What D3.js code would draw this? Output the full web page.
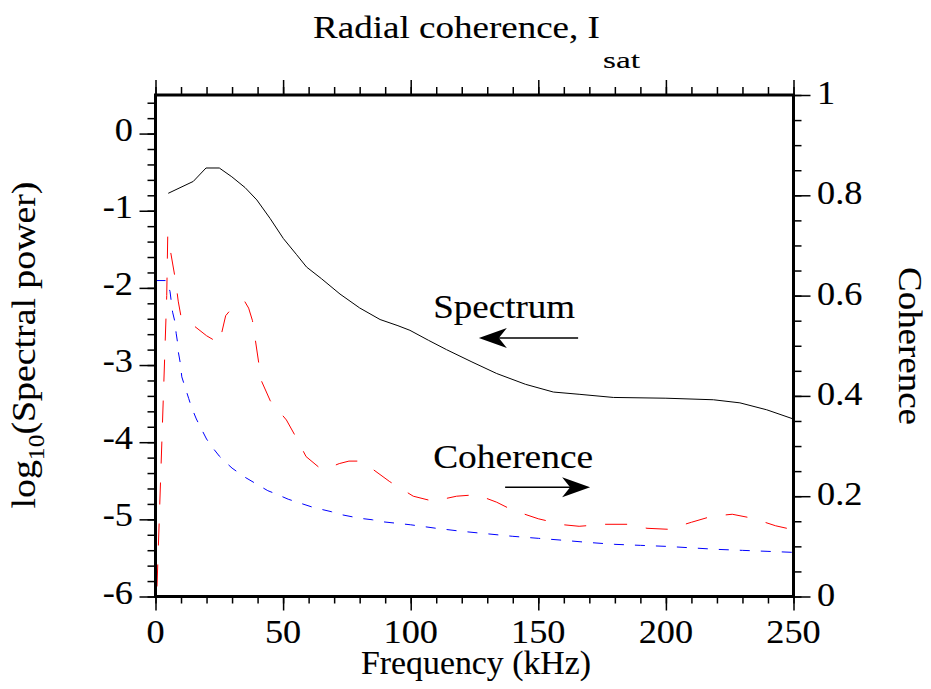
<!DOCTYPE html>
<html lang="en">
<head>
<meta charset="UTF-8">
<title>Radial coherence, Isat</title>
<script src="https://d3js.org/d3.v7.min.js"></script>
<style>
    body { margin: 0; background: #fff; }
    svg text { font-family: "Liberation Serif", "Times New Roman", serif; fill: #000; stroke: #000; stroke-width: 0.12px; }
    .tick line { stroke: #000; stroke-width: 1.5px; }
</style>
</head>
<body>
<svg id="chart" width="931" height="689"></svg>
<script>
// spectrum, log10 power (left axis)
const specFreq  = [5, 14.8, 19.8, 25, 29.9, 35.1, 39.7, 44.9, 50.1, 55.3, 59.2, 65, 72.3, 80, 88, 95, 99.7, 107, 114, 124, 133.7, 145, 155.9, 166.3, 179.4, 200, 218.6, 229, 239.5, 250];
const specPower = [-0.774, -0.62, -0.446, -0.446, -0.56, -0.70, -0.86, -1.10, -1.36, -1.57, -1.73, -1.88, -2.08, -2.26, -2.41, -2.49, -2.55, -2.68, -2.80, -2.96, -3.11, -3.25, -3.35, -3.38, -3.42, -3.43, -3.45, -3.49, -3.58, -3.70];

// coherence, red long dashes (right axis)
const redFreq = [0.6, 4.4, 4.8, 7.9, 8.9, 10, 12.6, 15, 20, 25, 27.5, 30, 35, 36.5, 38, 41.5, 45, 51.3, 54.8, 59, 64.9, 67.5, 72, 75.8, 79.8, 84, 91.8, 101, 108.8, 118, 125.9, 133.7, 140, 150, 160, 166, 176, 185, 192.6, 201, 210, 218, 226, 234, 243, 250];
const redCoh  = [0.02, 0.60, 0.72, 0.629, 0.589, 0.558, 0.545, 0.54, 0.52, 0.505, 0.56, 0.575, 0.588, 0.575, 0.55, 0.43, 0.39, 0.352, 0.32, 0.279, 0.254, 0.256, 0.265, 0.27, 0.27, 0.258, 0.229, 0.20, 0.19, 0.20, 0.203, 0.188, 0.172, 0.155, 0.143, 0.14, 0.144, 0.144, 0.136, 0.134, 0.148, 0.16, 0.164, 0.156, 0.141, 0.133];

// coherence, blue short dashes (right axis)
const blueFreq = [0, 4.4, 5.7, 6.7, 7.5, 8.1, 8.6, 9, 9.7, 10.3, 11.3, 13, 14, 16, 17.5, 20, 22.5, 25, 27, 30, 35, 39, 44, 47, 52, 55, 61, 64, 69, 72, 77, 80, 85, 89, 100, 110, 120, 130, 140, 150, 160, 169, 180, 190, 200, 210, 220, 230, 240, 250];
const blueCoh  = [0.63, 0.63, 0.608, 0.567, 0.55, 0.525, 0.508, 0.486, 0.466, 0.438, 0.422, 0.395, 0.379, 0.354, 0.339, 0.314, 0.296, 0.28, 0.27, 0.256, 0.238, 0.226, 0.211, 0.205, 0.194, 0.189, 0.179, 0.175, 0.169, 0.164, 0.159, 0.156, 0.153, 0.149, 0.143, 0.136, 0.13, 0.125, 0.12, 0.116, 0.112, 0.108, 0.104, 0.102, 0.1, 0.097, 0.094, 0.092, 0.09, 0.088];

const xTicks = [0, 50, 100, 150, 200, 250];
const leftTicks = [-6, -5, -4, -3, -2, -1, 0];
const rightTicks = [0, 0.2, 0.4, 0.6, 0.8, 1];

const svg = d3.select("#chart");

const x  = d3.scaleLinear().domain([0, 250]).range([155.5, 793.5]);
const yL = d3.scaleLinear().domain([-6, 0.5]).range([596.5, 95]);
const yR = d3.scaleLinear().domain([0, 1]).range([596.5, 95]);

// stretch a text horizontally; fitted to a width when one is given
function stretch(t, px, py, rot, width) {
    const sx = width ? width / t.node().getComputedTextLength() : 1.1;
    return t.attr("transform", `translate(${px},${py}) rotate(${rot || 0}) scale(${sx},1)`);
}

function label(px, py, str, size, anchor, rot, width) {
    const t = svg.append("text")
        .attr("text-anchor", anchor || "start")
        .style("font-size", size + "px")
        .text(str);
    return stretch(t, px, py, rot, width);
}

function ticks(axis, tr) {
    const g = svg.append("g").attr("transform", tr).call(axis);
    g.select(".domain").remove();
    return g;
}

// minor + major ticks on all four sides
const xMinor = d3.range(0, 26).map(i => i * 10);
ticks(d3.axisBottom(x).tickValues(xMinor).tickSize(7).tickFormat(""), "translate(0,596.5)");
ticks(d3.axisBottom(x).tickValues(xTicks).tickSize(14).tickFormat(""), "translate(0,596.5)");
ticks(d3.axisTop(x).tickValues(xMinor).tickSize(8).tickFormat(""), "translate(0,95)");
ticks(d3.axisTop(x).tickValues(xTicks).tickSize(15).tickFormat(""), "translate(0,95)");

const lMinor = d3.range(-30, 3).map(i => i / 5);
ticks(d3.axisLeft(yL).tickValues(lMinor).tickSize(8).tickFormat(""), "translate(155.5,0)");
ticks(d3.axisLeft(yL).tickValues(leftTicks).tickSize(16).tickFormat(""), "translate(155.5,0)");

const rMinor = d3.range(0, 21).map(i => i / 20);
ticks(d3.axisRight(yR).tickValues(rMinor).tickSize(8).tickFormat(""), "translate(793.5,0)");
ticks(d3.axisRight(yR).tickValues(rightTicks).tickSize(17).tickFormat(""), "translate(793.5,0)");

// tick labels
xTicks.forEach(v => label(x(v), 643, v, 33, "middle"));
leftTicks.forEach(v => label(133, yL(v) + 7, v, 33, "end"));
rightTicks.forEach(v => label(817, yR(v) + 9, v, 33, "start"));

// curves
const pts = (fx, fy) => fx.map((f, i) => [f, fy[i]]);

svg.append("path")
    .datum(pts(redFreq, redCoh))
    .attr("fill", "none").attr("stroke", "#ff0000").attr("stroke-width", 1)
    .attr("stroke-dasharray", "22,19")
    .attr("d", d3.line().x(d => x(d[0])).y(d => yR(d[1])));

svg.append("path")
    .datum(pts(blueFreq, blueCoh))
    .attr("fill", "none").attr("stroke", "#0000ff").attr("stroke-width", 1)
    .attr("stroke-dasharray", "10,11")
    .attr("d", d3.line().x(d => x(d[0])).y(d => yR(d[1])));

svg.append("path")
    .datum(pts(specFreq, specPower))
    .attr("fill", "none").attr("stroke", "#000").attr("stroke-width", 1)
    .attr("d", d3.line().x(d => x(d[0])).y(d => yL(d[1])));

// frame
svg.append("rect")
    .attr("x", 155.5).attr("y", 95)
    .attr("width", 638).attr("height", 501.5)
    .attr("fill", "none").attr("stroke", "#000").attr("stroke-width", 3);

// annotations with arrows
function arrow(x1, x2, y) {
    const dir = Math.sign(x2 - x1);
    svg.append("line")
        .attr("x1", x1).attr("x2", x2 - dir * 20)
        .attr("y1", y).attr("y2", y)
        .attr("stroke", "#000").attr("stroke-width", 1.5);
    svg.append("path")
        .attr("d", `M${x2},${y} L${x2 - dir * 28},${y - 10} L${x2 - dir * 20},${y} L${x2 - dir * 28},${y + 10} Z`)
        .attr("fill", "#000");
}

label(x(108.8), yL(-2.39), "Spectrum", 34, "start", 0, 142);
arrow(x(165.6), x(126.7), yL(-2.65));
label(x(108.8), yR(0.256), "Coherence", 34, "start", 0, 160);
arrow(x(137), x(170.3), yR(0.218));

// title
label(313, 38, "Radial coherence, I", 32, "start", 0, 287);
label(603, 68, "sat", 24, "start", 0, 37);

// axis titles
label(476, 674, "Frequency (kHz)", 34, "middle", 0, 230);

const yl = svg.append("text")
    .attr("text-anchor", "middle")
    .style("font-size", "34px");
yl.append("tspan").text("log");
yl.append("tspan").attr("dy", 9).style("font-size", "23px").text("10");
yl.append("tspan").attr("dy", -9).text("(Spectral power)");
stretch(yl, 35, 345, -90, 327);

label(899, 346, "Coherence", 33, "middle", 90, 158);
</script>
</body>
</html>
